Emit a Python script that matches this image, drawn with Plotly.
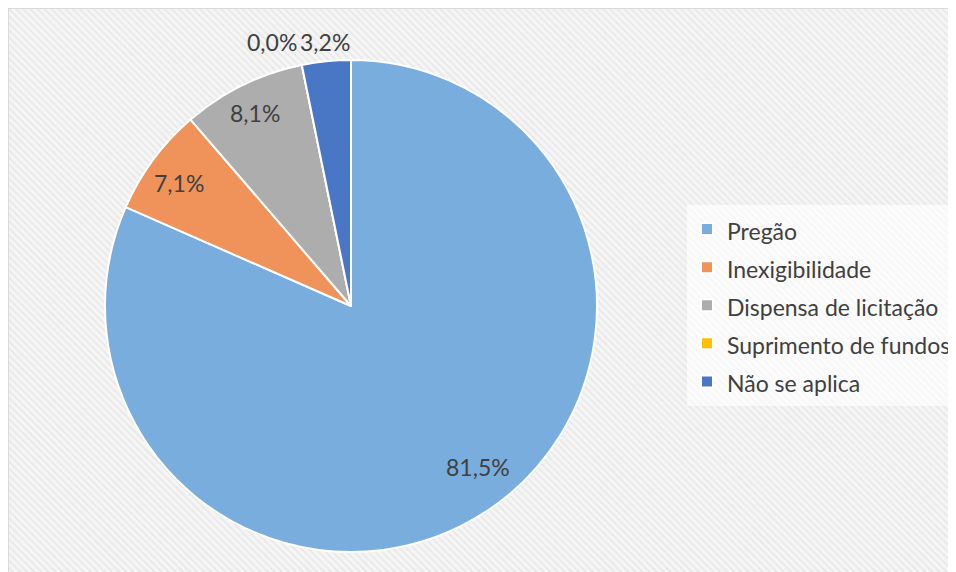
import plotly.graph_objects as go

categories = ["Pregão", "Inexigibilidade", "Dispensa de licitação", "Suprimento de fundos", "Não se aplica"]
values = [81.5, 7.1, 8.1, 0.0, 3.2]
colors = ["#79addd", "#f0935a", "#adadad", "#ffc000", "#4a76c6"]

W, H = 956, 572  # page adds an 8px white margin on the left/top; right/bottom get clipped

# data-label placement in pixels from the figure's top-left, one per category
label_px = [470, 171, 247, 264, 317]
label_py = [459, 175, 105, 34, 34]

FONT = "Lato, 'Open Sans', sans-serif"

fig = go.Figure()

# hatched chart-area background (decorative, fills the whole chart frame)
fig.add_trace(go.Scatter(
    x=[0, 1, 1, 0, 0], y=[0, 0, 1, 1, 0], mode="none", fill="toself",
    fillcolor="#f3f3f3",
    fillpattern=dict(shape="\\", fgcolor="#dcdcdc", bgcolor="#f5f5f5", size=5, solidity=0.35),
    hoverinfo="skip", showlegend=False,
))

# legend text drawn at 23px while the legend rows use a taller line height
legend_labels = [f"<span style='font-size:23px'>{c}</span>" for c in categories]

fig.add_trace(go.Pie(
    labels=legend_labels,
    values=values,
    sort=False,
    direction="clockwise",
    rotation=0,
    marker=dict(colors=colors, line=dict(color="white", width=2)),
    textinfo="none",
    hoverinfo="skip",
    domain=dict(x=[97 / W, 589 / W], y=[1 - 544 / H, 1 - 52 / H]),
))

annotations = []
for v, px, py in zip(values, label_px, label_py):
    annotations.append(dict(
        x=px / W, y=1 - py / H, xref="paper", yref="paper", showarrow=False,
        text=f"{v:.1f}%".replace(".", ","),
        font=dict(family=FONT, size=23, color="#404040"),
        xanchor="center", yanchor="middle",
    ))

fig.update_layout(
    width=W, height=H,
    margin=dict(l=0, r=0, t=0, b=0),
    separators=",.",
    paper_bgcolor="#eeeeee",
    plot_bgcolor="#eeeeee",
    font=dict(family=FONT, color="#404040"),
    xaxis=dict(visible=False, range=[0, 1], domain=[0, 1], fixedrange=True),
    yaxis=dict(visible=False, range=[0, 1], domain=[0, 1], fixedrange=True),
    shapes=[dict(type="rect", xref="paper", yref="paper", x0=0, x1=1.05, y0=-0.05, y1=1,
                 line=dict(color="#d9d9d9", width=2), fillcolor="rgba(0,0,0,0)", layer="above")],
    annotations=annotations,
    legend=dict(
        x=679 / W, y=1 - 297.5 / H, xanchor="left", yanchor="middle",
        bgcolor="rgba(255,255,255,0.65)",
        font=dict(family=FONT, size=27, color="#404040"),
        itemwidth=30,
    ),
)

fig.write_html("out.html")
